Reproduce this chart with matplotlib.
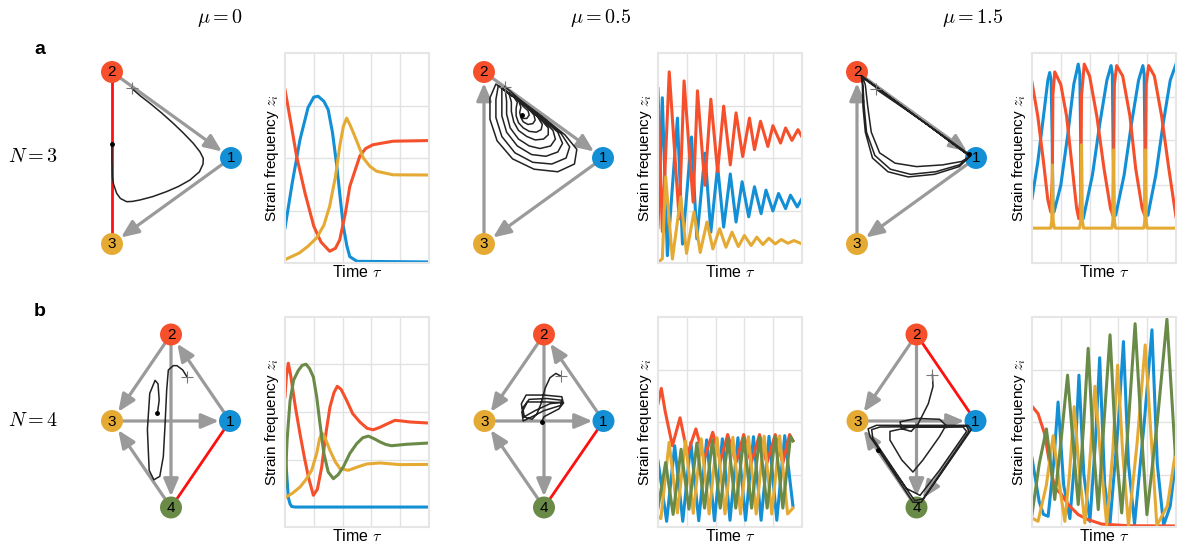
import numpy as np
import matplotlib.pyplot as plt
from matplotlib.patches import FancyArrowPatch

plt.rcParams['font.family'] = ['Liberation Sans', 'DejaVu Sans']
plt.rcParams['mathtext.fontset'] = 'cm'

W, H = 1178, 543
C1, C2, C3, C4 = '#128fd5', '#f5502b', '#e5aa33', '#6a8a47'

mu_labels = [r'$\mu = 0$', r'$\mu = 0.5$', r'$\mu = 1.5$']
n_labels = [r'$N = 3$', r'$N = 4$']

# ---- time series, (time, z), axis fraction units ----
a1_blue = [(0, .167), (.05, .38), (.104, .587), (.16, .74), (.2, .79), (.23, .794), (.27, .77), (.3, .73),
           (.33, .62), (.36, .46), (.385, .3), (.405, .175), (.43, .08), (.45, .03), (.5, .008), (1, .005)]
a1_red = [(0, .825), (.04, .67), (.08, .51), (.14, .33), (.2, .175), (.25, .1), (.31, .056), (.35, .07),
          (.38, .11), (.42, .24), (.45, .365), (.52, .51), (.56, .545), (.61, .563), (.75, .58), (1, .583)]
a1_yel = [(0, .016), (.1, .048), (.16, .08), (.22, .12), (.27, .18), (.31, .27), (.35, .41), (.38, .556),
          (.405, .65), (.428, .69), (.45, .66), (.475, .62), (.51, .56), (.544, .5), (.59, .46), (.636, .437),
          (.75, .42), (1, .419)]

a2_blue = [(0, .17), (.03, .787), (.065, .035), (.135, .69), (.17, .09), (.233, .6), (.27, .115), (.326, .523),
           (.367, .147), (.414, .46), (.456, .171), (.502, .424), (.542, .195), (.584, .387), (.63, .22),
           (.67, .363), (.716, .235), (.75, .347), (.798, .248), (.837, .331), (.886, .259), (.92, .323),
           (.967, .267), (1, .307)]
a2_red = [(0, .83), (.03, .15), (.078, .91), (.147, .21), (.181, .867), (.244, .29), (.274, .82), (.325, .37),
          (.367, .78), (.414, .435), (.456, .747), (.502, .467), (.542, .715), (.588, .507), (.635, .69),
          (.67, .54), (.712, .675), (.763, .555), (.798, .654), (.851, .571), (.886, .643), (.93, .584),
          (.972, .635), (1, .6)]
a2_yel = [(0, .003), (.03, .02), (.053, .41), (.1, .019), (.158, .315), (.198, .046), (.25, .243), (.293, .05),
          (.34, .195), (.381, .067), (.428, .163), (.472, .075), (.514, .147), (.558, .078), (.6, .131),
          (.647, .083), (.686, .123), (.728, .088), (.77, .118), (.814, .091), (.856, .112), (.902, .094),
          (.944, .107), (1, .091)]

a3_blue = [(0, .307), (.04, .48), (.08, .7), (.11, .87), (.123, .907), (.133, .87), (.14, .6), (.145, .3),
           (.153, .243), (.2, .37), (.25, .62), (.29, .85), (.321, .947), (.332, .9), (.338, .6), (.343, .25),
           (.356, .211), (.42, .42), (.47, .66), (.52, .87), (.549, .94), (.558, .9), (.564, .5), (.568, .25),
           (.581, .227), (.64, .42), (.69, .66), (.74, .87), (.77, .94), (.779, .9), (.785, .5), (.789, .25),
           (.805, .227), (.86, .42), (.91, .66), (.96, .87), (1, .947)]
a3_red = [(0, .86), (.04, .7), (.08, .48), (.11, .3), (.13, .243), (.141, .4), (.145, .8), (.158, .91),
          (.2, .85), (.24, .7), (.28, .45), (.31, .26), (.325, .211), (.338, .3), (.344, .8), (.363, .947),
          (.4, .89), (.45, .7), (.5, .45), (.545, .26), (.562, .227), (.567, .5), (.572, .85), (.588, .94),
          (.63, .89), (.68, .7), (.72, .45), (.765, .26), (.783, .227), (.788, .5), (.793, .85), (.81, .94),
          (.85, .89), (.9, .7), (.95, .45), (1, .219)]
a3_yel = [(0, .166), (.13, .166), (.137, .2), (.142, .467), (.147, .2), (.155, .166), (.33, .166), (.338, .2),
          (.344, .563), (.35, .2), (.358, .166), (.555, .166), (.562, .2), (.567, .539), (.572, .2), (.58, .166),
          (.776, .166), (.783, .2), (.788, .539), (.793, .2), (.8, .166), (1, .166)]

b1_blue = [(0, .38), (.012, .25), (.023, .14), (.035, .11), (.046, .098), (.07, .095), (1, .095)]
b1_red = [(0, .62), (.01, .72), (.023, .78), (.04, .72), (.07, .58), (.104, .444), (.135, .33), (.162, .24),
          (.197, .151), (.225, .18), (.255, .286), (.285, .45), (.312, .571), (.34, .64), (.363, .67),
          (.39, .655), (.428, .603), (.47, .54), (.52, .5), (.57, .47), (.613, .463), (.66, .475), (.706, .49),
          (.764, .508), (.82, .504), (.868, .5), (1, .495)]
b1_grn = [(0, .19), (.015, .42), (.035, .6), (.06, .7), (.093, .746), (.12, .77), (.146, .775), (.17, .755),
          (.197, .714), (.22, .62), (.243, .492), (.27, .35), (.3, .262), (.336, .23), (.37, .25), (.405, .286),
          (.45, .35), (.498, .397), (.54, .425), (.579, .433), (.62, .42), (.66, .405), (.7, .393), (.74, .387),
          (.845, .394), (1, .4)]
b1_yel = [(0, .14), (.05, .16), (.104, .19), (.15, .23), (.185, .27), (.22, .35), (.24, .42), (.255, .448),
          (.275, .43), (.312, .365), (.35, .31), (.382, .278), (.44, .27), (.5, .285), (.567, .3), (.66, .305),
          (.8, .297), (1, .298)]

b2_blue = [(0, .315), (.06, .027), (.116, .387), (.172, .027), (.228, .403), (.283, .03), (.338, .415),
           (.392, .03), (.447, .42), (.5, .032), (.555, .425), (.608, .032), (.663, .43), (.716, .032),
           (.771, .432), (.825, .032), (.88, .435), (.937, .1)]
b2_red = [(0, .587), (.023, .66), (.05, .55), (.1, .387), (.153, .52), (.205, .347), (.263, .467), (.32, .323),
          (.38, .451), (.433, .315), (.484, .44), (.542, .307), (.595, .44), (.647, .304), (.705, .44),
          (.756, .304), (.814, .44), (.867, .304), (.914, .44), (.937, .411)]
b2_yel = [(0, .05), (.02, .04), (.077, .403), (.135, .067), (.19, .41), (.245, .065), (.3, .42), (.355, .062),
          (.41, .425), (.465, .062), (.52, .427), (.573, .062), (.628, .43), (.682, .062), (.737, .432),
          (.79, .062), (.845, .434), (.9, .062), (.937, .09)]
b2_grn = [(0, .09), (.053, .307), (.105, .06), (.16, .37), (.215, .085), (.27, .4), (.323, .09), (.378, .415),
          (.432, .09), (.487, .42), (.54, .09), (.596, .425), (.65, .09), (.705, .427), (.758, .09),
          (.813, .43), (.867, .09), (.92, .43), (.937, .41)]

b3_blue = [(0, .328), (.05, .12), (.08, .06), (.112, .051), (.15, .3), (.181, .595), (.22, .2), (.263, .04),
           (.3, .35), (.326, .723), (.36, .25), (.402, .027), (.44, .4), (.47, .806), (.505, .2), (.542, .019),
           (.6, .5), (.635, .883), (.67, .3), (.712, .014), (.78, .5), (.833, .939), (.87, .3), (.914, .008),
           (.96, .1), (.995, .3)]
b3_red = [(0, .575), (.042, .54), (.088, .443), (.123, .299), (.158, .187), (.205, .155), (.251, .107),
          (.321, .059), (.39, .035), (.484, .014), (.67, .006), (.995, .005)]
b3_grn = [(0, .059), (.05, .3), (.1, .467), (.13, .3), (.158, .131), (.2, .4), (.247, .723), (.285, .4),
          (.321, .107), (.36, .5), (.39, .851), (.425, .4), (.46, .083), (.5, .5), (.542, .915), (.58, .4),
          (.623, .067), (.67, .5), (.716, .968), (.76, .45), (.798, .059), (.87, .5), (.937, .99), (.995, .347)]
b3_yel = [(0, .043), (.042, .027), (.1, .2), (.147, .435), (.19, .2), (.228, .027), (.26, .25), (.293, .573),
          (.33, .25), (.367, .019), (.4, .3), (.437, .67), (.48, .3), (.519, .011), (.56, .35), (.595, .771),
          (.63, .35), (.67, .008), (.73, .4), (.786, .867), (.83, .4), (.867, .008), (.94, .1), (.995, .35)]

# ---- phase-space trajectories, projected simplex coordinates ----
a1_traj = [(.165, .81), (.24, .72), (.319, .636), (.42, .52), (.515, .403), (.6, .29), (.683, .171), (.74, .07),
           (.767, -.004), (.765, -.07), (.735, -.16), (.655, -.256), (.56, -.33), (.46, -.39), (.34, -.45),
           (.235, -.488), (.17, -.505), (.123, -.508), (.07, -.47), (.039, -.41), (.012, -.3), (.003, -.217),
           (0, -.023), (0, .163)]
a2_traj = [(.176, .83), (.30, .68), (.50, .47), (.68, .27), (.78, .10), (.76, -.07), (.62, -.16), (.42, -.13),
           (.24, -.01), (.11, .20), (.05, .45), (.05, .70), (.10, .86),
           (.32, .65), (.50, .46), (.65, .28), (.72, .13), (.69, .0), (.57, -.07), (.41, -.05), (.26, .06),
           (.15, .25), (.10, .47), (.10, .68), (.12, .84),
           (.33, .63), (.50, .45), (.62, .30), (.66, .17), (.62, .07), (.52, .02), (.40, .04), (.28, .14),
           (.19, .30), (.15, .49), (.15, .67), (.15, .81),
           (.34, .62), (.49, .45), (.58, .32), (.60, .22), (.56, .14), (.47, .11), (.38, .14), (.29, .22),
           (.22, .35), (.19, .51), (.19, .66), (.18, .78),
           (.35, .61), (.47, .46), (.54, .35), (.54, .27), (.50, .22), (.43, .21), (.36, .25), (.29, .32),
           (.25, .42), (.23, .54), (.23, .65), (.21, .75),
           (.36, .60), (.45, .48), (.49, .39), (.48, .33), (.44, .30), (.38, .31), (.33, .35), (.29, .41),
           (.27, .49), (.27, .58), (.28, .65), (.25, .71),
           (.37, .58), (.42, .50), (.43, .44), (.41, .40), (.37, .39), (.33, .42), (.31, .47), (.30, .53),
           (.31, .59), (.29, .67),
           (.33, .60), (.37, .55), (.38, .50), (.36, .46), (.33, .46), (.31, .49), (.32, .5)]
a3_traj = [(.16, .8), (.35, .62), (.6, .38), (.85, .12), (.95, .02),
           (.88, -.04), (.72, -.08), (.5, -.1), (.32, -.06), (.19, .06), (.12, .3), (.09, .6), (.07, .85), (.05, .93),
           (.5, .48), (.95, .02),
           (.86, -.08), (.66, -.16), (.45, -.19), (.28, -.13), (.15, .03), (.08, .3), (.06, .6), (.05, .85), (.04, .95),
           (.5, .48), (.95, .02),
           (.86, -.1), (.65, -.19), (.43, -.22), (.26, -.16), (.13, 0), (.07, .3), (.05, .6), (.045, .85), (.035, .96),
           (.5, .48), (.94, .047)]
b1_traj = [(.276, .505), (.198, .59), (.1, .64), (.04, .64), (-.045, .59), (-.073, .36), (-.1, -.03), (-.13, -.41),
           (-.19, -.64), (-.29, -.68), (-.37, -.57), (-.4, -.1), (-.36, .32), (-.27, .47), (-.22, .43), (-.2, .24),
           (-.23, .09)]
b2_traj = [(.28, .52), (.2, .55), (.1, .5), (.02, .38), (-.05, .2), (-.12, .08), (-.2, .02), (-.35, .05), (-.38, .2),
           (-.3, .3), (0, .3), (.3, .28), (.32, .22), (.1, .2), (-.15, .12), (-.33, .05), (-.36, .15), (-.25, .25),
           (.05, .26), (.3, .24), (.28, .18), (0, .12), (-.2, .05), (-.35, 0), (-.37, .1), (-.28, .22), (.05, .22),
           (.33, .21), (.25, .14), (0, .05), (-.04, -.01)]
b3_traj = [(.27, .535), (.28, .4), (.2, .2), (.03, -.03), (-.09, -.12), (-.25, -.09), (-.28, -.01), (0, .03),
           (.39, .02), (.5, -.05), (.39, -.18), (.11, -.45), (-.06, -.59), (-.25, -.45), (-.45, -.22), (-.45, -.12),
           (-.11, -.07), (.79, -.07), (.85, -.12), (.39, -.57), (.06, -.86), (-.17, -.78), (-.74, -.2), (-.76, -.1),
           (-.62, -.07), (.85, -.06), (.89, -.12), (.11, -.9), (-.03, -.92), (-.79, -.18), (-.82, -.09),
           (-.68, -.05), (.87, -.05), (.93, -.1), (.08, -.94), (-.06, -.94), (-.65, -.33)]

fig = plt.figure(figsize=(W / 100, H / 100), dpi=100)
ov = fig.add_axes([0, 0, 1, 1])
ov.set_xlim(0, W)
ov.set_ylim(H, 0)
ov.axis('off')

node_col = {1: C1, 2: C2, 3: C3, 4: C4}


def draw_net(pos, arrows, red, traj, proj):
    for a, b in arrows:
        ov.add_patch(FancyArrowPatch(pos[a], pos[b], arrowstyle='-|>,head_length=0.75,head_width=0.32',
                                     mutation_scale=14, color='#9a9a9a', lw=2.3, shrinkA=8, shrinkB=8, zorder=2))
    for a, b in red:
        ov.plot([pos[a][0], pos[b][0]], [pos[a][1], pos[b][1]], color='#ff1010', lw=2, zorder=2)
    for k, p in pos.items():
        ov.scatter(p[0], p[1], s=250, color=node_col[k], zorder=4, edgecolors='none')
        ov.text(p[0], p[1] + 0.5, str(k), ha='center', va='center', fontsize=11, zorder=6)
    xy = np.array([proj(p) for p in traj])
    ov.plot(xy[:, 0], xy[:, 1], color='#222222', lw=1.1, zorder=5)
    ov.plot(xy[0, 0], xy[0, 1], marker='+', color='#777777', ms=8, mew=0.8, zorder=5)
    ov.plot(xy[-1, 0], xy[-1, 1], marker='o', color='black', ms=2.5, zorder=5)


def tri(x2, y2, x1, y1):
    pos = {2: (x2, y2), 1: (x1, y1), 3: (x2, 2 * y1 - y2)}
    return pos, lambda p: (x2 + p[0] * (x1 - x2), y1 - p[1] * (y1 - y2))


def dia(cx, cy, hw, hh):
    pos = {1: (cx + hw, cy), 2: (cx, cy - hh), 3: (cx - hw, cy), 4: (cx, cy + hh)}
    return pos, lambda p: (cx + p[0] * hw, cy - p[1] * hh)


def ts_axes(left, top, ygrid, series):
    ax = fig.add_axes([left / W, 1 - (top + 210) / H, 144 / W, 210 / H])
    for col, pts in series:
        pts = np.array(pts)
        ax.plot(pts[:, 0], pts[:, 1], color=col, lw=2.2, solid_joinstyle='round')
    ax.set_xlim(0, 1)
    ax.set_ylim(0, 1)
    ax.set_xticks([.2, .4, .6, .8])
    ax.set_yticks(ygrid)
    ax.tick_params(length=0, labelbottom=False, labelleft=False)
    ax.grid(color='#e2e2e2', lw=1)
    ax.set_axisbelow(True)
    for s in ax.spines.values():
        s.set_color('#e6e6e6')
        s.set_linewidth(1.5)
    ax.set_xlabel(r'Time $\tau$', fontsize=11.5, labelpad=1)
    ax.set_ylabel(r'Strain frequency $z_i$', fontsize=11, labelpad=3)


# row a
pos, pr = tri(112, 72, 231, 158)
draw_net(pos, [(2, 1), (1, 3)], [(2, 3)], a1_traj, pr)
pos, pr = tri(484, 72, 603, 158)
draw_net(pos, [(2, 1), (1, 3), (3, 2)], [], a2_traj, pr)
pos, pr = tri(857, 72, 976, 158)
draw_net(pos, [(2, 1), (1, 3), (3, 2)], [], a3_traj, pr)

# row b
pos, pr = dia(171, 421, 59, 86.5)
draw_net(pos, [(2, 3), (1, 2), (3, 1), (2, 4), (4, 3)], [(1, 4)], b1_traj, pr)
pos, pr = dia(544, 421, 59.5, 86.5)
draw_net(pos, [(2, 3), (1, 2), (3, 1), (2, 4), (4, 3)], [(1, 4)], b2_traj, pr)
pos, pr = dia(916.5, 421, 59, 86.5)
draw_net(pos, [(2, 3), (3, 1), (2, 4), (4, 3), (1, 4)], [(2, 1)], b3_traj, pr)

ts_axes(285, 53, [.25, .5, .75], [(C1, a1_blue), (C2, a1_red), (C3, a1_yel)])
ts_axes(658, 53, [.25, .5, .75], [(C1, a2_blue), (C2, a2_red), (C3, a2_yel)])
ts_axes(1032, 53, [.371, .584, .792], [(C1, a3_blue), (C2, a3_red), (C3, a3_yel)])
ts_axes(285, 317, [.321, .546, .775], [(C1, b1_blue), (C2, b1_red), (C3, b1_yel), (C4, b1_grn)])
ts_axes(658, 317, [.25, .5, .75], [(C1, b2_blue), (C2, b2_red), (C3, b2_yel), (C4, b2_grn)])
ts_axes(1032, 317, [.25, .5, .75], [(C1, b3_blue), (C2, b3_red), (C3, b3_yel), (C4, b3_grn)])

for x, lab in zip([220, 601, 973], mu_labels):
    ov.text(x, 18, lab, ha='center', va='center', fontsize=14.5)
for y, lab in zip([157, 420], n_labels):
    ov.text(33, y, lab, ha='center', va='center', fontsize=14.5)
ov.text(40, 50, 'a', ha='center', va='center', fontsize=14, fontweight='bold')
ov.text(40, 312, 'b', ha='center', va='center', fontsize=14, fontweight='bold')

fig.savefig('out.png', dpi=100)
